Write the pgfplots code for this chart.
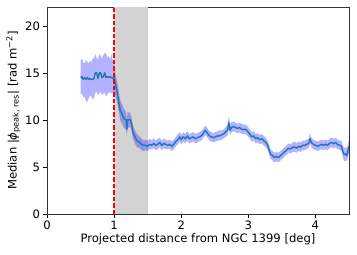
\documentclass[border=0pt]{standalone}
\usepackage{pgfplots}
\pgfplotsset{compat=1.18}
\usepackage{pgfplotstable}
\usepgfplotslibrary{fillbetween}
\usepackage{fontspec}
\setmainfont{DejaVu Sans}
\definecolor{mplblue}{HTML}{1F77B4}
\definecolor{spangray}{RGB}{211,211,211}
\pgfplotstableread{
x y lo hi
0.50 14.5 12.7 16.3
0.52 14.6 12.8 16.5
0.54 14.3 12.4 16.1
0.56 14.5 12.5 16.0
0.58 14.3 12.0 16.4
0.60 14.5 11.9 16.2
0.62 14.3 12.3 16.0
0.64 14.4 12.6 16.3
0.66 14.3 12.5 16.1
0.68 14.3 12.2 16.5
0.70 14.4 12.3 16.6
0.72 15.0 12.9 17.0
0.74 15.0 13.0 16.6
0.76 14.4 12.6 16.4
0.78 15.0 12.8 17.0
0.80 15.0 13.0 16.8
0.82 14.5 12.6 16.5
0.84 14.6 12.8 16.9
0.86 15.0 12.9 17.1
0.88 14.5 12.5 17.1
0.90 14.6 12.7 16.6
0.92 14.5 12.9 16.8
0.94 14.6 13.0 16.4
0.96 14.5 12.8 17.0
0.98 14.4 12.9 16.3
1.00 14.5 13.0 15.8
1.02 13.8 12.6 14.9
1.05 12.8 11.7 13.9
1.07 11.9 10.9 13.0
1.09 11.0 10.0 12.1
1.12 10.6 9.6 11.6
1.15 10.1 9.1 11.1
1.18 10.0 9.0 10.9
1.19 9.0 8.3 10.0
1.20 10.0 9.1 10.8
1.22 10.0 9.2 10.8
1.24 10.0 9.3 10.7
1.26 9.6 8.9 10.3
1.28 8.7 8.0 9.4
1.31 8.2 7.5 8.9
1.34 7.8 7.1 8.5
1.38 7.6 7.0 8.2
1.41 7.4 6.8 8.0
1.44 7.3 6.7 7.8
1.47 7.3 6.8 7.9
1.50 7.2 6.7 7.8
1.53 7.4 6.9 8.0
1.56 7.3 6.9 7.8
1.59 7.5 7.0 8.1
1.62 7.3 6.8 7.8
1.65 7.4 6.9 8.0
1.68 7.6 7.1 8.1
1.71 7.3 6.8 7.8
1.74 7.5 7.0 8.0
1.77 7.4 6.9 7.9
1.80 7.3 6.9 7.8
1.83 7.4 6.9 7.9
1.86 7.2 6.7 7.7
1.89 7.4 6.9 7.9
1.92 7.7 7.2 8.2
1.95 7.9 7.4 8.5
1.98 8.2 7.7 8.7
2.00 7.9 7.4 8.4
2.03 8.2 7.7 8.7
2.06 8.0 7.5 8.5
2.09 8.3 7.8 8.8
2.12 8.0 7.5 8.5
2.15 8.1 7.6 8.6
2.18 8.2 7.7 8.7
2.21 8.0 7.5 8.5
2.24 8.1 7.6 8.6
2.27 8.2 7.7 8.7
2.30 8.3 7.8 8.8
2.33 8.6 8.1 9.1
2.36 8.9 8.4 9.4
2.39 8.6 8.1 9.1
2.42 8.3 7.8 8.8
2.45 8.2 7.7 8.7
2.48 8.1 7.6 8.6
2.51 8.2 7.7 8.7
2.54 8.3 7.8 8.8
2.57 8.3 7.8 8.9
2.60 8.4 7.9 8.9
2.63 8.5 8.0 9.0
2.66 8.7 8.2 9.2
2.69 8.9 8.3 9.5
2.71 9.7 9.0 10.4
2.73 8.9 8.4 9.5
2.75 9.2 8.7 9.8
2.78 9.3 8.8 9.8
2.81 9.2 8.7 9.7
2.84 9.1 8.6 9.6
2.87 9.2 8.7 9.7
2.90 9.0 8.5 9.6
2.93 9.0 8.5 9.5
2.96 9.0 8.5 9.5
2.99 8.8 8.3 9.3
3.02 8.5 8.0 9.0
3.05 8.2 7.7 8.7
3.08 8.3 7.8 8.8
3.11 8.0 7.5 8.5
3.14 8.1 7.6 8.6
3.17 7.9 7.4 8.4
3.20 8.0 7.5 8.5
3.23 7.8 7.3 8.3
3.26 7.6 7.1 8.1
3.29 7.3 6.8 7.8
3.31 6.8 6.3 7.3
3.33 6.4 5.9 6.9
3.36 6.2 5.7 6.7
3.39 6.0 5.5 6.5
3.42 6.1 5.6 6.6
3.45 6.0 5.5 6.5
3.48 6.2 5.7 6.7
3.51 6.4 5.9 6.9
3.54 6.6 6.1 7.1
3.57 6.8 6.3 7.3
3.60 7.0 6.5 7.5
3.63 6.9 6.4 7.4
3.66 7.1 6.6 7.6
3.69 7.1 6.6 7.7
3.72 7.0 6.5 7.5
3.75 7.2 6.7 7.7
3.78 7.1 6.6 7.6
3.81 7.3 6.8 7.8
3.84 7.3 6.8 7.8
3.87 7.4 6.9 7.9
3.90 7.5 7.0 8.0
3.92 8.0 7.5 8.6
3.94 7.6 7.1 8.1
3.97 7.4 6.9 7.9
4.00 7.3 6.8 7.8
4.03 7.2 6.7 7.7
4.06 7.3 6.8 7.8
4.09 7.4 6.9 7.9
4.12 7.3 6.8 7.8
4.15 7.4 6.9 7.9
4.18 7.3 6.8 7.8
4.21 7.5 7.0 8.0
4.24 7.6 7.1 8.1
4.27 7.5 7.0 8.0
4.30 7.6 7.1 8.1
4.33 7.4 6.9 7.9
4.36 7.3 6.8 7.8
4.39 7.2 6.7 7.8
4.41 6.6 6.0 7.2
4.43 6.3 5.6 7.0
4.45 6.4 5.7 7.1
4.47 6.2 5.6 7.0
4.49 6.9 6.2 7.6
4.50 7.2 6.5 7.9
}\datatable
\begin{document}
\begin{tikzpicture}
\begin{axis}[
  scale only axis,
  width=302pt, height=207pt,
  xmin=0, xmax=4.5, ymin=0, ymax=22,
  xtick={0,1,2,3,4}, ytick={0,5,10,15,20},
  tick align=outside, tick pos=left,
  major tick length=3.5pt,
  tick style={black, line width=0.6pt},
  axis line style={line width=0.6pt, black!80},
  ticklabel style={font=\fontsize{11.6}{13}\selectfont},
  /pgf/number format/assume math mode=true,
  xlabel={Projected distance from NGC 1399 [deg]},
  ylabel={Median |{\itshape ϕ}\textsubscript{peak, res}| [rad m\textsuperscript{−2}]},
  label style={font=\fontsize{11.6}{13}\selectfont},
  xlabel style={yshift=3pt},
  ylabel style={yshift=-2pt},
  fill between/on layer=main,
]
\fill[spangray] (axis cs:1,0) rectangle (axis cs:1.5,22);
\addplot[name path=hi, draw=none, forget plot] table[x=x, y=hi] {\datatable};
\addplot[name path=lo, draw=none, forget plot] table[x=x, y=lo] {\datatable};
\addplot[fill=blue, fill opacity=0.3, draw=none] fill between[of=hi and lo];
\addplot[mplblue, line width=1.4pt, line join=round] table[x=x, y=y] {\datatable};
\addplot[red, line width=1.3pt, dash pattern=on 4.5pt off 2pt] coordinates {(1,0) (1,22)};
\end{axis}
\path (current axis.south west) ++(-47pt,-41pt) rectangle ++(357pt,255pt);
\end{tikzpicture}
\end{document}
